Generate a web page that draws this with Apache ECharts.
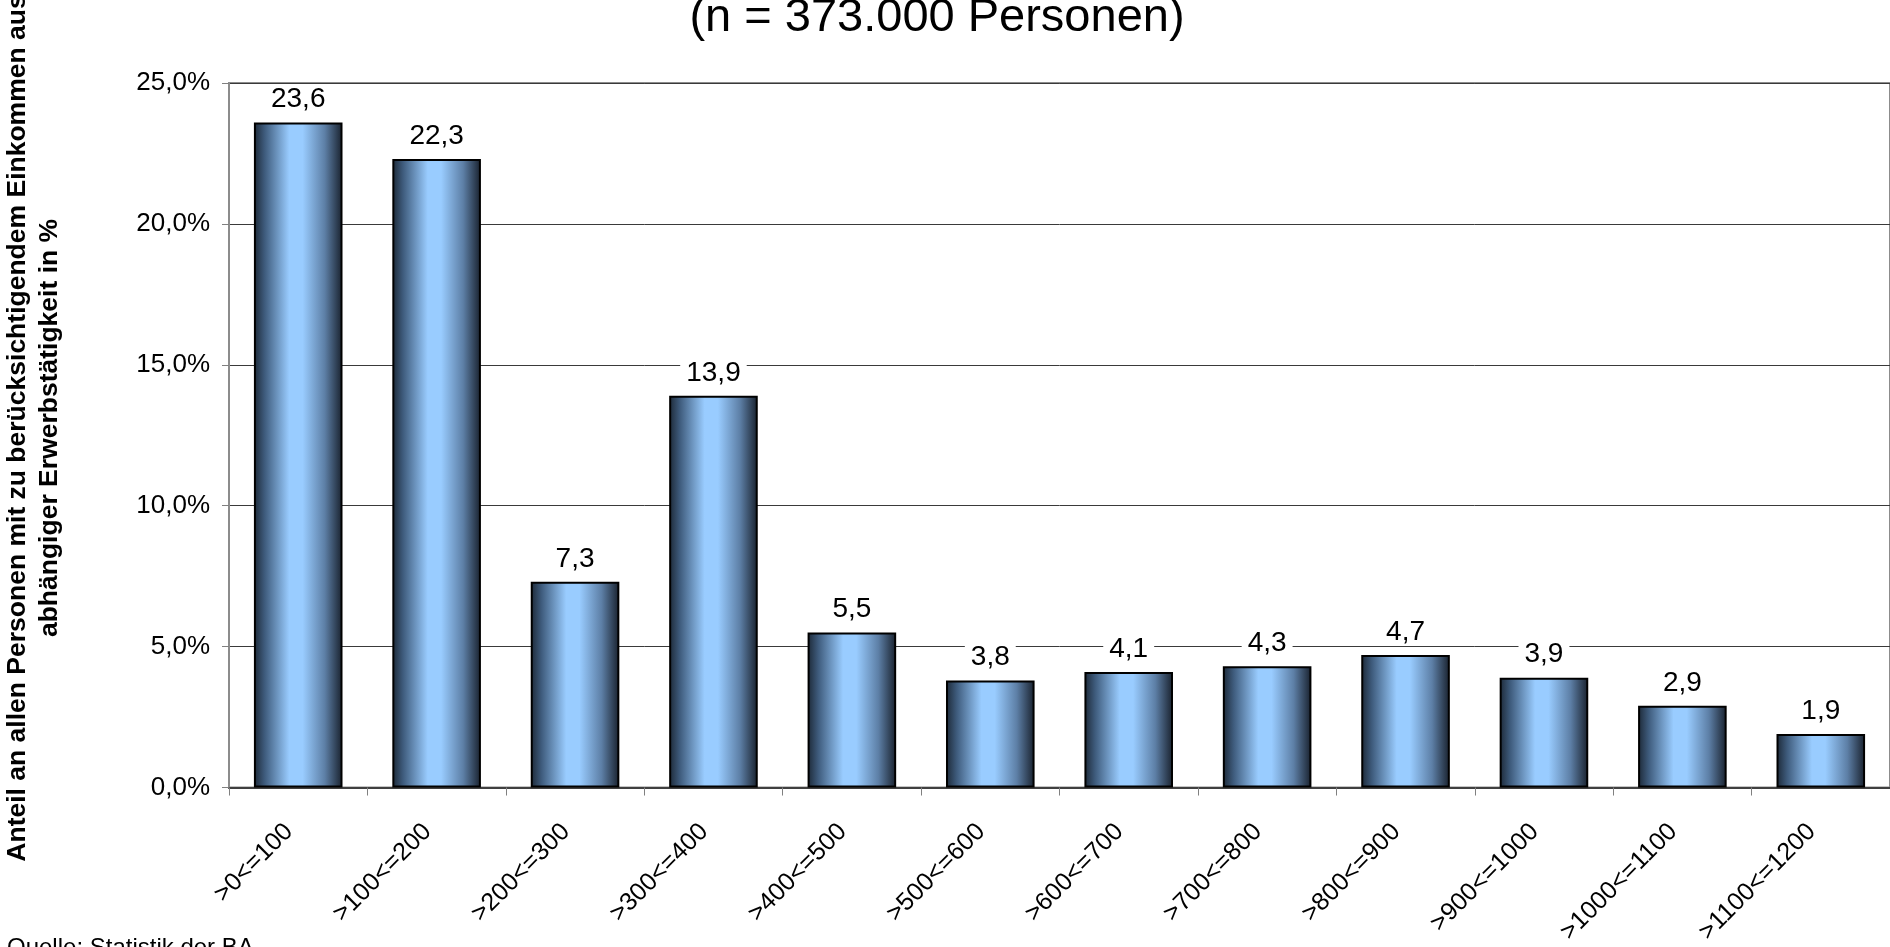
<!DOCTYPE html>
<html>
<head>
<meta charset="utf-8">
<script src="https://cdn.jsdelivr.net/npm/echarts@6/dist/echarts.min.js"></script>
<style>
  html, body { margin: 0; padding: 0; background: #fff; }
  #chart { width: 1890px; height: 947px; }
</style>
</head>
<body>
<div id="chart"></div>
<script>
// income bands (EUR) and share of persons in %
const categories = ['>0<=100', '>100<=200', '>200<=300', '>300<=400', '>400<=500', '>500<=600',
  '>600<=700', '>700<=800', '>800<=900', '>900<=1000', '>1000<=1100', '>1100<=1200'];
const shares = [23.6, 22.3, 7.3, 13.9, 5.5, 3.8, 4.1, 4.3, 4.7, 3.9, 2.9, 1.9];

const titleText = '(n = 373.000 Personen)';
const yAxisName = 'Anteil an allen Personen mit zu berücksichtigendem Einkommen aus\nabhängiger Erwerbstätigkeit in %';
const sourceText = 'Quelle: Statistik der BA';

const FONT = 'Arial, "Liberation Sans", sans-serif';
const fmt = v => v.toFixed(1).replace('.', ',');

const chart = echarts.init(document.getElementById('chart'));

const barGradient = new echarts.graphic.LinearGradient(0, 0, 1, 0, [
  { offset: 0, color: '#1c2836' },
  { offset: 0.12, color: '#3e5b7c' },
  { offset: 0.4, color: '#99ccff' },
  { offset: 0.55, color: '#99ccff' },
  { offset: 0.8, color: '#5d7fa6' },
  { offset: 1, color: '#18202c' }
]);

const option = {
  backgroundColor: '#fff',
  animation: false,
  textStyle: { fontFamily: FONT },
  grid: {
    left: 229,
    right: -2,
    top: 83,
    bottom: 158,
    show: true,
    borderColor: '#8c8c8c',
    borderWidth: 2
  },
  graphic: [
    {
      type: 'text',
      x: 937,
      y: 42,
      style: {
        text: titleText,
        font: '47px ' + FONT,
        fill: '#000',
        textAlign: 'center',
        textVerticalAlign: 'bottom'
      }
    },
    {
      type: 'text',
      x: 34,
      y: 428,
      rotation: Math.PI / 2,
      style: {
        text: yAxisName,
        font: 'bold 26.5px ' + FONT,
        lineHeight: 32,
        fill: '#000',
        textAlign: 'center',
        textVerticalAlign: 'middle'
      }
    },
    {
      type: 'text',
      x: 7,
      y: 936,
      style: {
        text: sourceText,
        font: '24px ' + FONT,
        fill: '#000',
        textAlign: 'left',
        textVerticalAlign: 'top'
      }
    }
  ],
  xAxis: {
    type: 'category',
    data: categories,
    boundaryGap: true,
    axisLine: { lineStyle: { color: '#404040', width: 2 } },
    axisTick: { show: true, length: 8, alignWithLabel: false, lineStyle: { color: '#808080', width: 1 } },
    axisLabel: {
      interval: 0,
      rotate: 45,
      margin: 31,
      padding: [0, 13, 0, 0],
      fontSize: 25,
      color: '#000',
      fontFamily: FONT
    },
    splitLine: { show: false }
  },
  yAxis: {
    type: 'value',
    min: 0,
    max: 25,
    interval: 5,
    axisLine: { show: true, lineStyle: { color: '#8c8c8c', width: 2 } },
    axisTick: { show: true, length: 7, lineStyle: { color: '#808080', width: 1 } },
    axisLabel: {
      margin: 19,
      fontSize: 26,
      color: '#000',
      fontFamily: FONT,
      formatter: v => fmt(v) + '%'
    },
    splitLine: { show: true, lineStyle: { color: '#3a3a3a', width: 1 } }
  },
  series: [{
    type: 'bar',
    data: shares,
    barCategoryGap: '36%',
    itemStyle: {
      color: barGradient,
      borderColor: '#000',
      borderWidth: 2
    },
    label: {
      show: true,
      position: 'top',
      distance: 9,
      fontSize: 28,
      color: '#000',
      fontFamily: FONT,
      backgroundColor: '#fff',
      padding: [0, 6],
      formatter: p => fmt(p.value)
    }
  }]
};

chart.setOption(option);
</script>
</body>
</html>
